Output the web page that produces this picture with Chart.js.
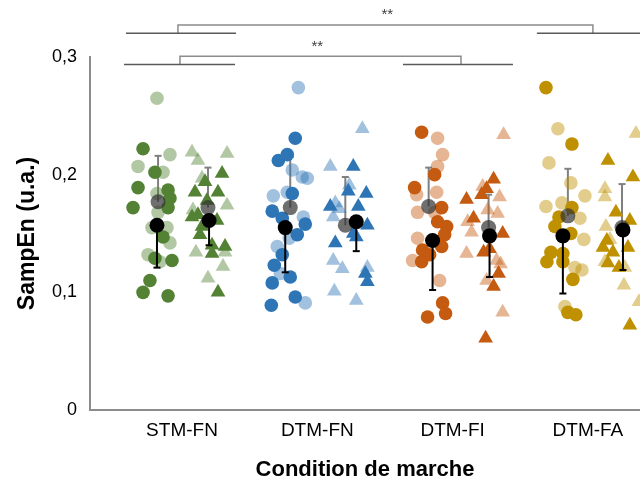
<!DOCTYPE html>
<html>
<head>
<meta charset="utf-8">
<script src="https://cdn.jsdelivr.net/npm/chart.js@4/dist/chart.umd.min.js"></script>
<style>
  body { margin: 0; background: #fff; }
  #wrap { width: 640px; height: 481px; }
</style>
</head>
<body>
<div id="wrap"><canvas id="graph-area"></canvas></div>
<script>
// categories (x = 1..4), y ticks
var categories = ['STM-FN', 'DTM-FN', 'DTM-FI', 'DTM-FA'];
var yTicks = [0, 0.1, 0.2, 0.3];

// points [x, SampEn] : light = first group, dark = second group
var stmCircLight = [[0.815,0.265],[0.911,0.217],[0.675,0.207],[0.86,0.202],[0.815,0.184],[0.823,0.168],[0.778,0.155],[0.889,0.155],[0.911,0.142],[0.749,0.132],[0.837,0.126]];
var stmCircDark = [[0.712,0.222],[0.80,0.202],[0.675,0.189],[0.897,0.187],[0.911,0.180],[0.638,0.172],[0.897,0.172],[0.86,0.147],[0.80,0.129],[0.926,0.127],[0.763,0.110],[0.712,0.100],[0.897,0.097]];
var stmTriLight = [[1.074,0.219],[1.333,0.218],[1.118,0.212],[1.148,0.197],[1.333,0.174],[1.081,0.170],[1.318,0.134],[1.103,0.134],[1.303,0.122],[1.192,0.112]];
var stmTriDark = [[1.296,0.201],[1.17,0.194],[1.096,0.185],[1.266,0.185],[1.185,0.178],[1.074,0.164],[1.118,0.166],[1.259,0.161],[1.148,0.156],[1.133,0.149],[1.222,0.140],[1.318,0.139],[1.222,0.133],[1.266,0.100]];

var dfnCircLight = [[1.86,0.274],[1.815,0.204],[1.889,0.198],[1.926,0.197],[1.675,0.182],[1.778,0.185],[1.897,0.164],[1.793,0.146],[1.704,0.139],[1.727,0.116],[1.911,0.091]];
var dfnCircDark = [[1.837,0.231],[1.778,0.217],[1.712,0.212],[1.815,0.184],[1.667,0.169],[1.741,0.163],[1.911,0.158],[1.852,0.149],[1.741,0.132],[1.682,0.123],[1.80,0.113],[1.667,0.108],[1.837,0.096],[1.66,0.089]];
var dfnTriLight = [[2.333,0.239],[2.096,0.207],[2.237,0.191],[2.133,0.176],[2.163,0.171],[2.118,0.164],[2.118,0.127],[2.185,0.120],[2.37,0.121],[2.126,0.101],[2.288,0.093]];
var dfnTriDark = [[2.266,0.207],[2.229,0.186],[2.362,0.184],[2.096,0.173],[2.303,0.173],[2.37,0.157],[2.266,0.150],[2.288,0.147],[2.133,0.142],[2.355,0.116],[2.37,0.109]];

var dfiCircLight = [[2.889,0.231],[2.926,0.217],[2.889,0.207],[2.734,0.183],[2.882,0.185],[2.741,0.168],[2.867,0.168],[2.741,0.146],[2.704,0.127],[2.904,0.110]];
var dfiCircDark = [[2.771,0.236],[2.867,0.200],[2.719,0.189],[2.919,0.172],[2.889,0.160],[2.956,0.156],[2.941,0.149],[2.919,0.139],[2.778,0.136],[2.83,0.132],[2.771,0.126],[2.926,0.091],[2.948,0.082],[2.815,0.079]];
var dfiTriLight = [[3.377,0.234],[3.222,0.190],[3.347,0.181],[3.259,0.170],[3.333,0.167],[3.111,0.160],[3.14,0.151],[3.103,0.133],[3.325,0.127],[3.355,0.124],[3.251,0.110],[3.37,0.083]];
var dfiTriDark = [[3.303,0.196],[3.251,0.188],[3.103,0.179],[3.214,0.183],[3.155,0.163],[3.37,0.150],[3.273,0.137],[3.229,0.134],[3.34,0.116],[3.303,0.105],[3.244,0.061]];

var dfaCircLight = [[3.778,0.239],[3.712,0.210],[3.874,0.193],[3.978,0.182],[3.69,0.173],[3.808,0.176],[3.941,0.163],[3.97,0.145],[3.904,0.121],[3.956,0.119],[3.83,0.088]];
var dfaCircDark = [[3.69,0.274],[3.882,0.226],[3.882,0.172],[3.786,0.164],[3.756,0.156],[3.874,0.150],[3.727,0.134],[3.815,0.133],[3.697,0.126],[3.815,0.126],[3.889,0.111],[3.852,0.083],[3.911,0.081]];
var dfaTriLight = [[4.355,0.235],[4.126,0.188],[4.126,0.181],[4.133,0.156],[4.163,0.145],[4.126,0.126],[4.273,0.121],[4.266,0.106],[4.377,0.092]];
var dfaTriDark = [[4.148,0.212],[4.333,0.198],[4.207,0.168],[4.31,0.161],[4.14,0.144],[4.111,0.138],[4.185,0.134],[4.296,0.138],[4.148,0.125],[4.229,0.121],[4.31,0.072]];

// means: [x, mean, end of error bar]
var meansLight = [[0.823,0.177,0.216],[1.192,0.172,0.206],[1.80,0.172,0.215],[2.207,0.157,0.198],
                  [2.823,0.173,0.206],[3.266,0.155,0.183],[3.852,0.165,0.205],[4.252,0.155,0.192]];
var meansDark = [[0.815,0.157,0.121],[1.20,0.161,0.140],[1.763,0.155,0.117],[2.288,0.160,0.135],
                 [2.852,0.144,0.102],[3.273,0.148,0.113],[3.815,0.148,0.099],[4.259,0.153,0.119]];

// significance brackets
var brackets = [
  { from: 0.97, to: 4.037, y: 0.3272, foot: 0.3201, text: '**', textX: 2.517, textY: 0.3357,
    subs: [[0.586, 1.399], [3.623, 4.45]] },
  { from: 0.985, to: 3.062, y: 0.3006, foot: 0.2936, text: '**', textX: 2.0, textY: 0.3085,
    subs: [[0.571, 1.392], [2.633, 3.446]] }
];

window.addEventListener('DOMContentLoaded', function () {
  var rgb = ['84,130,53', '46,117,182', '197,90,17', '191,144,0'];
  var groups = [
    [stmCircLight, stmCircDark, stmTriLight, stmTriDark],
    [dfnCircLight, dfnCircDark, dfnTriLight, dfnTriDark],
    [dfiCircLight, dfiCircDark, dfiTriLight, dfiTriDark],
    [dfaCircLight, dfaCircDark, dfaTriLight, dfaTriDark]
  ];
  function pts(arr) { return arr.map(function (p) { return { x: p[0], y: p[1] }; }); }

  var datasets = [];
  // mean markers on top
  datasets.push({ data: meansDark.map(function (m) { return { x: m[0], y: m[1] }; }),
    pointRadius: 7.5, backgroundColor: '#000', borderWidth: 0, order: 0 });
  datasets.push({ data: meansLight.map(function (m) { return { x: m[0], y: m[1] }; }),
    pointRadius: 7.5, backgroundColor: 'rgba(50,50,50,0.7)', borderWidth: 0, order: 1 });
  // error bars
  meansDark.forEach(function (m) {
    datasets.push({ data: [{ x: m[0], y: m[1] }, { x: m[0], y: m[2] }], showLine: true,
      borderColor: '#000', borderWidth: 2, pointStyle: 'line', pointRadius: [0, 3.5],
      pointBorderWidth: 2, order: 2 });
  });
  meansLight.forEach(function (m) {
    datasets.push({ data: [{ x: m[0], y: m[1] }, { x: m[0], y: m[2] }], showLine: true,
      borderColor: 'rgb(128,128,128)', borderWidth: 2, pointStyle: 'line', pointRadius: [0, 3.5],
      pointBorderWidth: 2, order: 5 });
  });
  // individual points
  groups.forEach(function (g, i) {
    var dark = 'rgb(' + rgb[i] + ')';
    var light = 'rgba(' + rgb[i] + ',0.45)';
    datasets.push({ data: pts(g[0]), pointStyle: 'circle', pointRadius: 6.8, backgroundColor: light, borderWidth: 0, order: 3 });
    datasets.push({ data: pts(g[1]), pointStyle: 'circle', pointRadius: 6.8, backgroundColor: dark, borderWidth: 0, order: 4 });
    datasets.push({ data: pts(g[2]), pointStyle: 'triangle', pointRadius: 8.5, backgroundColor: light, borderWidth: 0, order: 3 });
    datasets.push({ data: pts(g[3]), pointStyle: 'triangle', pointRadius: 8.5, backgroundColor: dark, borderWidth: 0, order: 4 });
  });

  var bracketPlugin = {
    id: 'brackets',
    afterDraw: function (chart) {
      var ctx = chart.ctx, xs = chart.scales.x, ys = chart.scales.y;
      ctx.save();
      brackets.forEach(function (b) {
        var x1 = xs.getPixelForValue(b.from), x2 = xs.getPixelForValue(b.to);
        var y = ys.getPixelForValue(b.y), yf = ys.getPixelForValue(b.foot);
        ctx.lineWidth = 1.5;
        ctx.strokeStyle = '#8c8c8c';
        ctx.beginPath();
        ctx.moveTo(x1, yf); ctx.lineTo(x1, y); ctx.lineTo(x2, y); ctx.lineTo(x2, yf);
        ctx.stroke();
        ctx.strokeStyle = '#595959';
        b.subs.forEach(function (s) {
          ctx.beginPath();
          ctx.moveTo(xs.getPixelForValue(s[0]), yf);
          ctx.lineTo(xs.getPixelForValue(s[1]), yf);
          ctx.stroke();
        });
        ctx.fillStyle = '#404040';
        ctx.font = '15px "Liberation Sans", Arial, sans-serif';
        ctx.textAlign = 'center';
        ctx.textBaseline = 'middle';
        ctx.fillText(b.text, xs.getPixelForValue(b.textX), ys.getPixelForValue(b.textY));
      });
      ctx.restore();
    }
  };

  var canvas = document.getElementById('graph-area');
  new Chart(canvas, {
    type: 'scatter',
    data: { datasets: datasets },
    options: {
      responsive: true,
      maintainAspectRatio: false,
      animation: false,
      layout: { autoPadding: false, padding: { top: 57, right: 0, bottom: 0, left: 0 } },
      plugins: { legend: { display: false }, tooltip: { enabled: false } },
      scales: {
        x: {
          type: 'linear', min: 0.32, max: 4.385,
          afterBuildTicks: function (s) { s.ticks = categories.map(function (c, i) { return { value: i + 1 }; }); },
          afterFit: function (s) { s.height = 71; s.paddingLeft = 0; s.paddingRight = 0; },
          grid: { display: false, drawTicks: false },
          border: { display: true, color: '#8c8c8c', width: 2 },
          ticks: { padding: 9, color: '#000', maxRotation: 0, autoSkip: false,
            font: { family: '"Liberation Sans", Arial, sans-serif', size: 19 },
            callback: function (v) { return categories[Math.round(v) - 1]; } },
          title: { display: true, text: 'Condition de marche', color: '#000',
            font: { family: '"Liberation Sans", Arial, sans-serif', size: 22, weight: 'bold', lineHeight: 1 },
            padding: { top: 0, bottom: 0 } }
        },
        y: {
          min: 0, max: 0.3,
          afterBuildTicks: function (s) { s.ticks = yTicks.map(function (v) { return { value: v }; }); },
          afterFit: function (s) { s.width = 90; },
          grid: { display: false, drawTicks: false },
          border: { display: true, color: '#8c8c8c', width: 2 },
          ticks: { padding: 13, color: '#000',
            font: { family: '"Liberation Sans", Arial, sans-serif', size: 18 },
            callback: function (v) { return v === 0 ? '0' : v.toFixed(1).replace('.', ','); } },
          title: { display: true, text: 'SampEn (u.a.)', color: '#000',
            font: { family: '"Liberation Sans", Arial, sans-serif', size: 23, weight: 'bold', lineHeight: 1.2 },
            padding: { top: 14, bottom: 0 } }
        }
      }
    },
    plugins: [bracketPlugin]
  });
});
</script>
</body>
</html>
